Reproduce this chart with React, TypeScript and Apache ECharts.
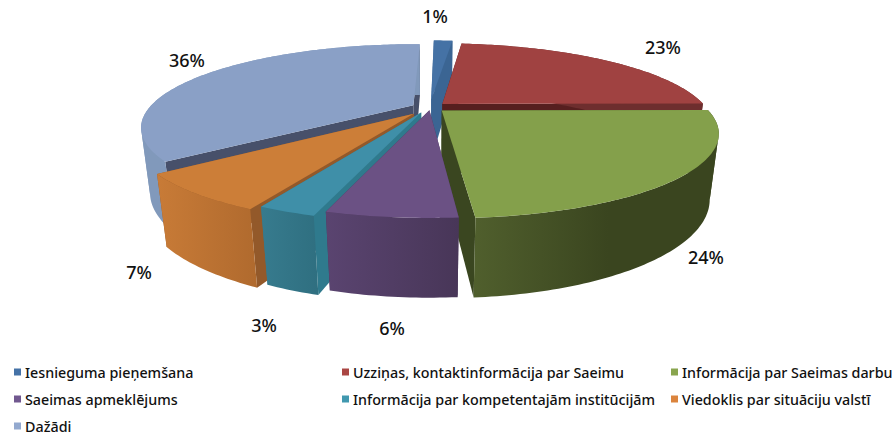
import React, { useEffect, useRef } from "react";
import * as echarts from "echarts";

const categories = [
  "Iesnieguma pieņemšana",
  "Uzziņas, kontaktinformācija par Saeimu",
  "Informācija par Saeimas darbu",
  "Saeimas apmeklējums",
  "Informācija par kompetentajām institūcijām",
  "Viedoklis par situāciju valstī",
  "Dažādi",
];
const values = [1.4, 22.6, 24, 6, 2.7, 7.3, 36];

// styling & layout
const topColors = ["#4572a5", "#a04241", "#84a04b", "#6b5184", "#3f8fa8", "#cc7e38", "#8aa0c6"];
const legendColors = ["#4572a7", "#aa4643", "#89a54e", "#71588f", "#4198af", "#db843d", "#93a9cf"];
const wallGradients = [
  ["#3b6593", "#3b6593"],
  ["#6e2e2e", "#6e2e2e"],
  ["#505f2d", "#3a451f"],
  ["#5a4470", "#483658"],
  ["#377b8e", "#2f6f80"],
  ["#c87b37", "#b06a2e"],
  ["#8199bb", "#8199bb"],
];
const cutColors = ["#3b6593", "#561f1f", "#3a4620", "#4a3759", "#2f7a8d", "#93592a", "#47506a"];
const explode = [0.105, 0.066, 0.066, 0.035, 0.066, 0.1, 0.07];
const nudgeU = [0, 0, -0.007, 0, -0.011, 0, 0];
const nudgeV = [0, 0, -0.005, 0, 0, 0, 0];
const drawOrder = [6, 0, 1, 2, 5, 4, 3];
const labelXY = [
  [435, 16],
  [663, 47],
  [706, 257],
  [392, 328],
  [264, 325],
  [139, 272],
  [187, 60],
];
const legendXY = [
  [14, 365],
  [342, 365],
  [671, 365],
  [14, 392],
  [342, 392],
  [671, 392],
  [14, 419],
];
const FONT = "'Noto Sans', sans-serif";
const CX = 430, CY = 107.5, A = 264, B = 78, H = 64, K = 0.26, M = 0.03;

const total = values.reduce((a, b) => a + b, 0);

function project(u: number, v: number, w: number): number[] {
  const d = 1 - K * v + M * w;
  return [CX + (A * u) / d, CY + (B * v + H * w) / d];
}

// The reference's 3D view slightly twists the angles around the disc.
function warp(t: number): number {
  const deg = (t * 180) / Math.PI;
  let phi = 2.5;
  if (deg < 80) phi = 0.8 + (2.6 * deg) / 80;
  else if (deg < 172) phi = 3.4 - (0.9 * (deg - 80)) / 92;
  else if (deg > 230) phi = 1.4 - (0.6 * (deg - 230)) / 130;
  else if (deg > 205) phi = 2.5 - (1.1 * (deg - 205)) / 25;
  return ((deg + phi) * Math.PI) / 180;
}

function makeRenderItem(i: number) {
  return () => {
    const before = values.slice(0, i).reduce((a, b) => a + b, 0);
    const a0 = (before / total) * Math.PI * 2;
    const a1 = ((before + values[i]) / total) * Math.PI * 2;
    const mid = (a0 + a1) / 2;
    const ox = explode[i] * Math.sin(mid) + nudgeU[i];
    const oy = -explode[i] * Math.cos(mid) + nudgeV[i];
    const rim = (t: number, w: number) => {
      const tt = warp(t);
      return project(Math.sin(tt) + ox, -Math.cos(tt) + oy, w);
    };
    const apex = (w: number) => project(ox, oy, w);
    const n = Math.max(2, Math.ceil(((a1 - a0) * 180) / Math.PI));
    const topArc: number[][] = [];
    const botArc: number[][] = [];
    for (let k = 0; k <= n; k++) {
      const t = a0 + ((a1 - a0) * k) / n;
      topArc.push(rim(t, 0));
      botArc.push(rim(t, 1));
    }
    const poly = (points: number[][], fill: any) => ({
      type: "polygon",
      shape: { points },
      style: { fill, stroke: null },
    });
    const [w0, w1] = wallGradients[i];
    const wallFill = {
      type: "linear",
      x: 0,
      y: 0,
      x2: 1,
      y2: 0,
      colorStops: [
        { offset: 0, color: w0 },
        { offset: i === 2 ? 0.55 : 1, color: w1 },
        { offset: 1, color: w1 },
      ],
    };
    // split the outer wall where the rim turns in x, so the silhouette is straight there
    let splitAt = -1;
    for (let k = 1; k < n; k++) {
      const a = topArc[k][0] - topArc[k - 1][0];
      const b = topArc[k + 1][0] - topArc[k][0];
      if (a * b <= 0) splitAt = k;
    }
    const strip = (from: number, to: number) => [
      ...topArc.slice(from, to + 1),
      ...botArc.slice(from, to + 1).reverse(),
    ];
    const walls =
      splitAt < 0
        ? [poly(strip(0, n), wallFill)]
        : [
            poly(strip(0, splitAt), splitAt > n - splitAt ? wallFill : w1),
            poly(strip(splitAt, n), splitAt > n - splitAt ? w1 : wallFill),
          ];
    const [lx, ly] = labelXY[i];
    return {
      type: "group",
      children: [
        poly([apex(0), rim(a0, 0), rim(a0, 1), apex(1)], cutColors[i]),
        poly([apex(0), rim(a1, 0), rim(a1, 1), apex(1)], cutColors[i]),
        ...walls,
        poly([apex(0), ...topArc], topColors[i]),
        {
          type: "text",
          style: {
            x: lx,
            y: ly,
            text: Math.round((values[i] / total) * 100) + "%",
            fill: "#111111",
            fontFamily: FONT,
            fontSize: 18,
            fontWeight: 500,
            align: "center",
            verticalAlign: "middle",
          },
        },
      ],
    };
  };
}

export default function App() {
  const ref = useRef<HTMLDivElement>(null);
  useEffect(() => {
    document.body.style.margin = "0";
    const chart = echarts.init(ref.current!, null, { renderer: "svg" });
    chart.setOption({
      animation: false,
      backgroundColor: "#ffffff",
      legend: categories.map((name, i) => ({
        data: [name],
        left: legendXY[i][0],
        top: legendXY[i][1],
        padding: 0,
        icon: "rect",
        itemWidth: 7,
        itemHeight: 7,
        itemGap: 0,
        selectedMode: false,
        textStyle: {
          fontFamily: FONT,
          fontSize: 14.3,
          fontWeight: 500,
          color: "#111111",
          padding: [0, 0, 0, -1],
        },
      })),
      series: categories.map((name, i) => ({
        type: "custom",
        name,
        coordinateSystem: "none",
        silent: true,
        z: 2 + drawOrder.indexOf(i),
        itemStyle: { color: legendColors[i] },
        data: [[values[i]]],
        renderItem: makeRenderItem(i),
      })),
    });
    return () => chart.dispose();
  }, []);
  return <div ref={ref} style={{ width: 895, height: 436 }} />;
}
